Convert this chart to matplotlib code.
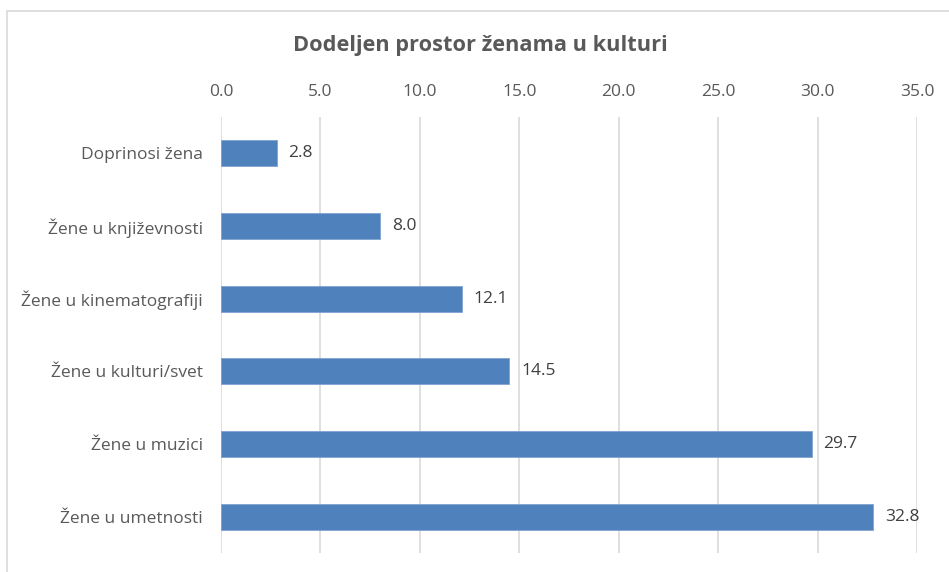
import matplotlib.pyplot as plt
from matplotlib.patches import Rectangle

categories = ['Doprinosi žena', 'Žene u književnosti', 'Žene u kinematografiji',
              'Žene u kulturi/svet', 'Žene u muzici', 'Žene u umetnosti']
values = [2.8, 8.0, 12.1, 14.5, 29.7, 32.8]
xticks = [0, 5, 10, 15, 20, 25, 30, 35]

plt.rcParams['font.family'] = ['Open Sans', 'DejaVu Sans']

fig = plt.figure(figsize=(9.49, 5.72), dpi=100)
fig.patches.append(Rectangle((7 / 949, -0.1), 1.1, 1.1 - 11 / 572,
                             transform=fig.transFigure, fill=False,
                             edgecolor='#d9d9d9', linewidth=1.2))
ax = fig.add_axes([221 / 949, 19 / 572, 696 / 949, 436 / 572])

pos = list(range(len(categories)))
ax.barh(pos, values, height=0.36, color='#4f81bd', edgecolor='#7fa3d0', linewidth=0.6, zorder=3)
for y, v in zip(pos, values):
    ax.text(v + 0.6, y, f'{v:.1f}', va='center', ha='left', fontsize=12.5, color='#404040')

ax.set_xlim(0, 35)
ax.set_ylim(len(categories) - 0.5, -0.5)
ax.set_xticks(xticks)
ax.set_xticklabels([f'{t:.1f}' for t in xticks])
ax.set_yticks(pos)
ax.set_yticklabels(categories)
ax.xaxis.tick_top()
ax.tick_params(axis='x', length=0, pad=12, labelsize=12.5, labelcolor='#595959')
ax.tick_params(axis='y', length=0, pad=13, labelsize=12.5, labelcolor='#595959')
ax.grid(axis='x', color='#d9d9d9', linewidth=1.2, zorder=0)
for s in ax.spines.values():
    s.set_visible(False)

fig.text(480 / 949, 1 - 46 / 572, 'Dodeljen prostor ženama u kulturi', ha='center', va='center',
         fontsize=15.7, fontweight='bold', color='#595959')

fig.savefig('out.png', dpi=100)
